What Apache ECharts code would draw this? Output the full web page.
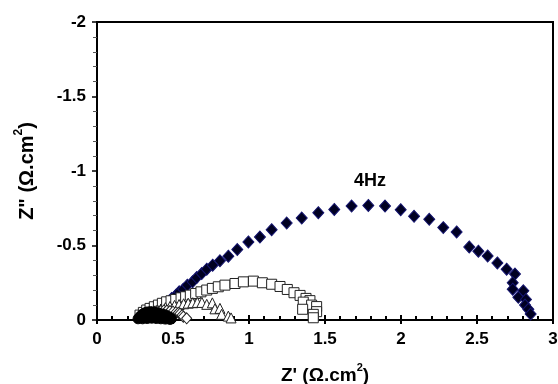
<!DOCTYPE html>
<html>
<head>
<meta charset="utf-8">
<script src="https://cdn.jsdelivr.net/npm/echarts@6/dist/echarts.min.js"></script>
<style>html,body{margin:0;padding:0;background:#fff}#c{width:558px;height:384px}</style>
</head>
<body>
<div id="c"></div>
<script>
const xTicks = [0, 0.5, 1, 1.5, 2, 2.5, 3];
const yTicks = [-2, -1.5, -1, -0.5, 0];

const filledDiamonds = [
  [0.36,-0.03],[0.39,-0.055],[0.42,-0.08],[0.45,-0.105],[0.47,-0.125],
  [0.491,-0.145],[0.520,-0.167],[0.541,-0.189],[0.568,-0.207],[0.594,-0.234],
  [0.629,-0.256],[0.656,-0.285],[0.689,-0.312],[0.722,-0.341],[0.761,-0.368],
  [0.809,-0.397],[0.864,-0.428],[0.923,-0.473],[0.996,-0.524],[1.072,-0.557],
  [1.149,-0.606],[1.248,-0.651],[1.347,-0.684],[1.456,-0.720],[1.561,-0.742],
  [1.675,-0.765],[1.785,-0.769],[1.895,-0.765],[1.998,-0.740],[2.086,-0.696],
  [2.186,-0.676],[2.278,-0.620],[2.366,-0.591],[2.449,-0.490],[2.509,-0.462],
  [2.570,-0.430],[2.634,-0.383],[2.695,-0.341],[2.750,-0.308],[2.735,-0.250],
  [2.735,-0.207],[2.805,-0.196],[2.772,-0.152],[2.822,-0.138],[2.816,-0.100],
  [2.838,-0.072],[2.853,-0.040]
];

const openSquares = [
  [0.283,-0.033],[0.305,-0.051],[0.327,-0.067],[0.349,-0.078],[0.377,-0.089],
  [0.404,-0.100],[0.430,-0.112],[0.458,-0.122],[0.487,-0.129],[0.518,-0.138],
  [0.553,-0.149],[0.583,-0.156],[0.614,-0.167],[0.649,-0.178],[0.684,-0.189],
  [0.722,-0.201],[0.759,-0.212],[0.798,-0.223],[0.842,-0.234],[0.908,-0.245],
  [0.963,-0.256],[1.029,-0.261],[1.088,-0.250],[1.149,-0.240],[1.204,-0.225],
  [1.252,-0.205],[1.296,-0.183],[1.336,-0.165],[1.375,-0.145],[1.401,-0.130],
  [1.357,-0.120],[1.412,-0.100],[1.445,-0.090],[1.353,-0.072],[1.445,-0.056],
  [1.423,-0.038],[1.423,-0.015]
];

const openTriangles = [
  [0.30,-0.02],[0.33,-0.038],[0.36,-0.052],[0.39,-0.064],[0.42,-0.074],
  [0.45,-0.083],[0.48,-0.091],[0.51,-0.098],[0.54,-0.104],[0.57,-0.109],
  [0.60,-0.113],[0.63,-0.116],[0.66,-0.118],[0.69,-0.118],[0.722,-0.105],
  [0.759,-0.115],[0.776,-0.075],[0.809,-0.078],[0.820,-0.038],[0.864,-0.026],
  [0.882,-0.014]
];

const openDiamonds = [
  [0.30,-0.02],[0.32,-0.032],[0.34,-0.042],[0.36,-0.05],[0.38,-0.055],
  [0.40,-0.06],[0.42,-0.062],[0.44,-0.064],[0.46,-0.063],[0.48,-0.06],
  [0.50,-0.056],[0.52,-0.052],[0.535,-0.048],[0.546,-0.042],[0.56,-0.032],
  [0.568,-0.022],[0.59,-0.011]
];

const filledCircles = [
  [0.27,-0.008],[0.28,-0.02],[0.29,-0.03],[0.30,-0.04],[0.315,-0.048],
  [0.33,-0.054],[0.35,-0.056],[0.37,-0.054],[0.39,-0.05],[0.41,-0.045],
  [0.43,-0.04],[0.45,-0.034],[0.465,-0.026],[0.48,-0.018],[0.49,-0.008],
  [0.30,-0.008],[0.33,-0.01],[0.36,-0.012],[0.39,-0.01],[0.42,-0.008],[0.45,-0.006],[0.48,-0.004]
];

const annotation = [[1.796, -0.936]];
const annotationText = '4Hz';

const chart = echarts.init(document.getElementById('c'), null, {renderer: 'canvas'});
const font = 'Liberation Sans, Arial, sans-serif';
const grid = {left: 97, right: 5, top: 22, bottom: 64, show: true, borderColor: '#000', borderWidth: 2,
  containLabel: false, outerBoundsMode: 'none'};
function richName(size) {
  return {
    a: {fontFamily: font, fontWeight: 'bold', fontSize: size, color: '#000', verticalAlign: 'bottom', lineHeight: size + 4},
    s: {fontFamily: font, fontWeight: 'bold', fontSize: Math.round(size * 0.6), color: '#000', verticalAlign: 'top', lineHeight: size + 4, padding: [0,0,10,0]}
  };
}

chart.setOption({
  animation: false,
  backgroundColor: '#fff',
  grid: grid,
  xAxis: [{
    type: 'value', min: xTicks[0], max: xTicks[xTicks.length-1], interval: 0.5,
    axisLine: {lineStyle: {color: '#000', width: 2}},
    axisTick: {inside: true, length: 5, lineStyle: {color: '#000', width: 2}},
    minorTick: {show: true, splitNumber: 5, length: 4, lineStyle: {color: '#000', width: 2}},
    splitLine: {show: false},
    axisLabel: {color: '#000', fontFamily: font, fontWeight: 'bold', fontSize: 17, margin: 11,
      formatter: v => String(v)},
    name: '{a|Z\' (Ω.cm}{s|2}{a|)}', nameLocation: 'middle', nameGap: 42,
    nameTextStyle: {rich: richName(19)}
  }, {
    type: 'value', min: xTicks[0], max: xTicks[xTicks.length-1], interval: 0.5, position: 'bottom',
    axisLine: {show: false}, axisLabel: {show: false}, splitLine: {show: false},
    axisTick: {inside: false, length: 4, lineStyle: {color: '#000', width: 2}}
  }],
  yAxis: {
    type: 'value', min: yTicks[0], max: yTicks[yTicks.length-1], interval: 0.5, inverse: true,
    axisLine: {lineStyle: {color: '#000', width: 2}},
    axisTick: {inside: false, length: 5, lineStyle: {color: '#000', width: 1.5}},
    minorTick: {show: true, splitNumber: 5, length: 4, lineStyle: {color: '#555', width: 1}},
    splitLine: {show: false},
    axisLabel: {color: '#000', fontFamily: font, fontWeight: 'bold', fontSize: 17, margin: 11,
      formatter: v => String(v)},
    name: '{a|Z" (Ω.cm}{s|2}{a|)}', nameLocation: 'middle', nameGap: 60, nameRotate: 90,
    nameTextStyle: {rich: richName(20)}
  },
  series: [
    {type: 'scatter', data: filledDiamonds, symbol: 'diamond', symbolSize: [11, 12],
      itemStyle: {color: '#000022', borderColor: '#141470', borderWidth: 1, opacity: 1}, z: 2},
    {type: 'scatter', data: openSquares, symbol: 'rect', symbolSize: 10,
      itemStyle: {color: '#fff', borderColor: '#222', borderWidth: 1, opacity: 1}, z: 3},
    {type: 'scatter', data: openTriangles, symbol: 'triangle', symbolSize: 10,
      itemStyle: {color: '#fff', borderColor: '#222', borderWidth: 1, opacity: 1}, z: 4},
    {type: 'scatter', data: openDiamonds, symbol: 'diamond', symbolSize: [10, 11],
      itemStyle: {color: '#fff', borderColor: '#222', borderWidth: 1, opacity: 1}, z: 5},
    {type: 'scatter', data: filledCircles, symbol: 'circle', symbolSize: 10,
      itemStyle: {color: '#000', borderColor: '#000', borderWidth: 1, opacity: 1}, z: 6},
    {type: 'scatter', data: annotation, symbolSize: 0, silent: true, z: 7,
      itemStyle: {opacity: 1},
      label: {show: true, position: 'inside', formatter: annotationText, color: '#000',
        textBorderWidth: 0, fontFamily: font, fontWeight: 'bold', fontSize: 18}}
  ]
});
</script>
</body>
</html>
